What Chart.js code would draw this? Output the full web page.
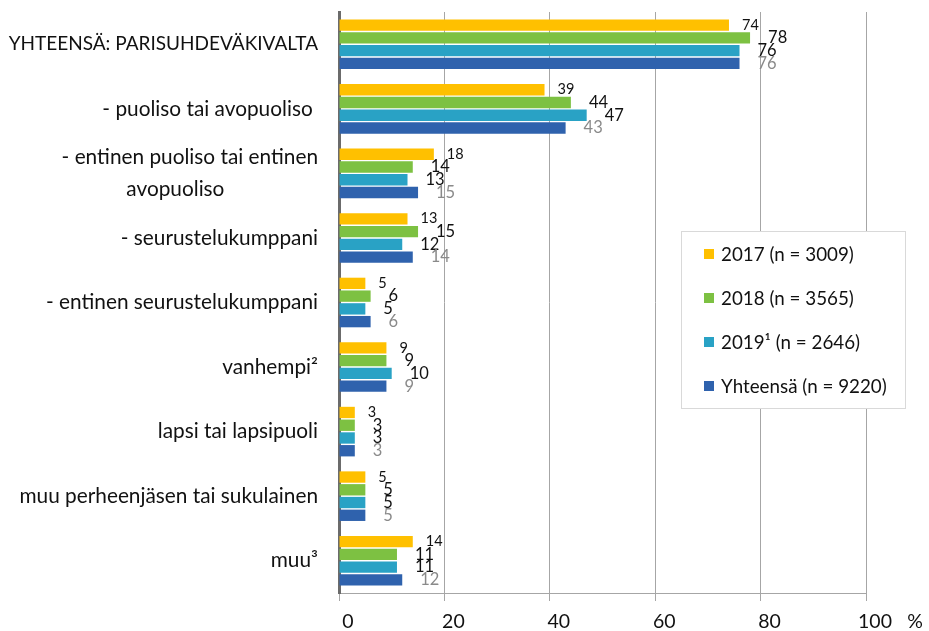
<!DOCTYPE html>
<html>
<head>
<meta charset="utf-8">
<script src="https://cdn.jsdelivr.net/npm/chart.js@4/dist/chart.umd.min.js"></script>
<style>
html,body{margin:0;padding:0;background:#fff;}
#wrap{width:929px;height:631px;position:relative;}
</style>
</head>
<body>
<div id="wrap"><canvas id="c" width="929" height="631"></canvas></div>
<script>
const categories = [
  "YHTEENSÄ: PARISUHDEVÄKIVALTA",
  "- puoliso tai avopuoliso ",
  ["- entinen puoliso tai entinen", "avopuoliso\u2003\u2003\u2003\u2003\u2003\u2003"],
  "- seurustelukumppani",
  "- entinen seurustelukumppani",
  "vanhempi\u00B2",
  "lapsi tai lapsipuoli",
  "muu perheenjäsen tai sukulainen",
  "muu\u00B3"
];
const seriesNames = ["2017 (n = 3009)", "2018 (n = 3565)", "2019\u00B9 (n = 2646)", "Yhteensä (n = 9220)"];
const values2017 = [74, 39, 18, 13, 5, 9, 3, 5, 14];
const values2018 = [78, 44, 14, 15, 6, 9, 3, 5, 11];
const values2019 = [76, 47, 13, 12, 5, 10, 3, 5, 11];
const valuesTotal = [76, 43, 15, 14, 6, 9, 3, 5, 12];
const xTicks = [0, 20, 40, 60, 80, 100];

const colors = ["#FFC000", "#7DC142", "#29A2C5", "#2F62AD"];
const labelColors = ["#111", "#111", "#111", "#8a8a8a"];
const labelFonts = [14.5, 16.5, 16.5, 16.5];
const labelOffsets = [13, 18, 18, 18];
const FONT = "Lato";

const allValues = [values2017, values2018, values2019, valuesTotal];

const valueLabels = {
  id: 'valueLabels',
  afterDatasetsDraw(chart) {
    const ctx = chart.ctx;
    ctx.save();
    chart.data.datasets.forEach((ds, i) => {
      const meta = chart.getDatasetMeta(i);
      ctx.font = labelFonts[i] + "px " + FONT;
      ctx.fillStyle = labelColors[i];
      ctx.textAlign = 'left';
      ctx.textBaseline = 'middle';
      meta.data.forEach((el, j) => {
        ctx.fillText(String(ds.data[j]), el.x + labelOffsets[i], el.y);
      });
    });
    ctx.restore();
  }
};

const boxLegend = {
  id: 'boxLegend',
  afterDraw(chart) {
    const ctx = chart.ctx;
    ctx.save();
    const bx = 681.5, by = 231.5, bw = 224, bh = 177;
    ctx.fillStyle = '#fff';
    ctx.fillRect(bx, by, bw, bh);
    ctx.strokeStyle = '#d9d9d9';
    ctx.lineWidth = 1;
    ctx.strokeRect(bx, by, bw, bh);
    const rows = [254, 298, 342, 386];
    ctx.font = "18.8px " + FONT;
    ctx.textAlign = 'left';
    ctx.textBaseline = 'middle';
    chart.data.datasets.forEach((ds, i) => {
      ctx.fillStyle = ds.backgroundColor;
      ctx.fillRect(704, rows[i] - 5, 10, 10);
      ctx.fillStyle = '#111';
      ctx.fillText(ds.label, 721, rows[i] + 1);
    });
    ctx.font = "19.5px " + FONT;
    ctx.textAlign = 'center';
    ctx.fillText("%", 915, 622);
    ctx.restore();
  }
};

function zeroPad(scale) {
  scale.paddingTop = 0; scale.paddingBottom = 0;
  scale.paddingLeft = 0; scale.paddingRight = 0;
}

new Chart(document.getElementById('c'), {
  type: 'bar',
  data: {
    labels: categories,
    datasets: allValues.map((v, i) => ({
      label: seriesNames[i],
      data: v,
      backgroundColor: colors[i],
      borderWidth: 0,
      categoryPercentage: 0.79,
      barPercentage: 0.89
    }))
  },
  options: {
    indexAxis: 'y',
    responsive: false,
    animation: false,
    layout: { padding: { top: 12, right: 63, left: 0, bottom: 0 } },
    plugins: { legend: { display: false }, tooltip: { enabled: false } },
    scales: {
      x: {
        min: 0, max: 100,
        afterBuildTicks(scale) { scale.ticks = xTicks.map(v => ({ value: v })); },
        afterFit(scale) { scale.height = 38; zeroPad(scale); },
        grid: { color: '#a6a6a6', lineWidth: 1, tickLength: 8, drawTicks: true },
        border: { display: true, color: '#a6a6a6', width: 1 },
        ticks: { color: '#111', font: { family: FONT, size: 19.5 }, padding: 9, labelOffset: 9, maxRotation: 0 }
      },
      y: {
        afterFit(scale) { scale.width = 339; zeroPad(scale); },
        grid: { display: false, drawTicks: false },
        border: { display: true, color: '#6b6b6b', width: 3 },
        ticks: {
          color: '#111', autoSkip: false, padding: 21,
          font: (c) => ({ family: FONT, size: c.index === 0 ? 19 : 20.8, lineHeight: 1.5 })
        }
      }
    }
  },
  plugins: [valueLabels, boxLegend]
});
</script>
</body>
</html>
